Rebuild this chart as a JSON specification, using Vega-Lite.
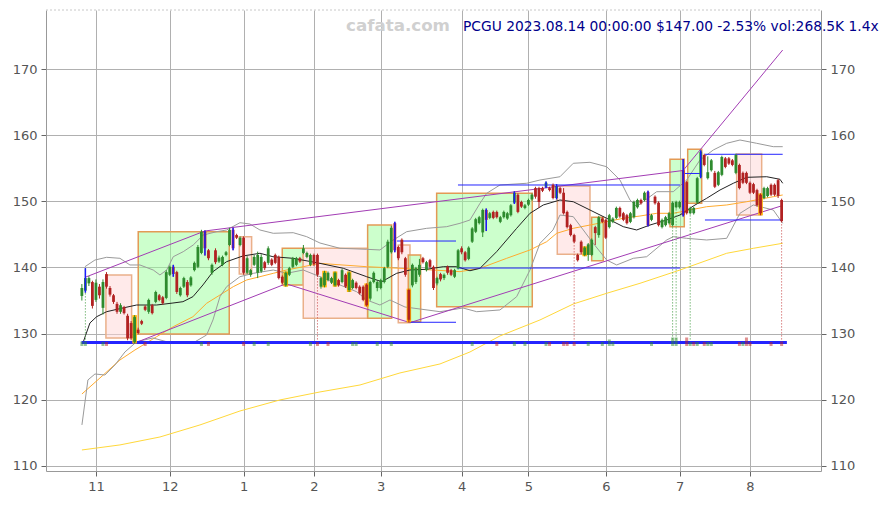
{
"$schema":"https://vega.github.io/schema/vega-lite/v6.json",
"width":775,"height":461,"autosize":"none",
"padding":{"left":46,"top":10,"right":67,"bottom":34},
"background":"white",
"config":{"view":{"stroke":null},"font":"DejaVu Sans","scale":{"continuousPadding":0},
 "axis":{"labelFont":"DejaVu Sans","labelFontSize":13,"labelColor":"#555555","tickColor":"#666666","domainColor":"#999999","gridColor":"#b0b0b0","gridWidth":1,"tickSize":5,"labelPadding":4,"title":null}},
"datasets":{
"candles":[
{"i":-4,"o":135.7,"h":137.5,"l":135.0,"c":136.9},{"i":-3,"o":136.5,"h":139.9,"l":136.2,"c":138.4,"m":"b"},{"i":-2,"o":137.6,"h":138.7,"l":137.2,"c":138.4},{"i":-1,"o":137.8,"h":138.0,"l":133.8,"c":134.2},
{"i":0,"o":135.1,"h":138.2,"l":134.8,"c":137.7},{"i":1,"o":137.1,"h":137.5,"l":135.3,"c":135.8},{"i":2,"o":133.9,"h":138.2,"l":132.9,"c":137.8},{"i":3,"o":139.0,"h":139.3,"l":136.8,"c":137.1},
{"i":4,"o":136.9,"h":137.2,"l":135.6,"c":135.9},{"i":5,"o":135.8,"h":136.0,"l":134.5,"c":134.8},{"i":6,"o":134.5,"h":134.8,"l":133.0,"c":133.3},{"i":7,"o":133.3,"h":134.6,"l":133.0,"c":134.3},
{"i":8,"o":134.0,"h":134.2,"l":132.9,"c":133.1},{"i":9,"o":132.7,"h":133.0,"l":129.0,"c":129.3},{"i":10,"o":131.6,"h":131.9,"l":129.0,"c":129.3},{"i":11,"o":128.7,"h":132.8,"l":128.5,"c":132.5,"m":"o"},
{"i":12,"o":130.6,"h":130.9,"l":129.9,"c":130.1},{"i":13,"o":131.9,"h":132.1,"l":131.3,"c":131.5},{"i":14,"o":134.1,"h":134.3,"l":133.4,"c":133.6},{"i":15,"o":133.3,"h":135.3,"l":133.0,"c":135.1},
{"i":16,"o":134.3,"h":134.5,"l":132.9,"c":133.1},{"i":17,"o":134.8,"h":136.5,"l":134.6,"c":136.3},{"i":18,"o":135.8,"h":136.0,"l":134.9,"c":135.1},{"i":19,"o":135.5,"h":135.7,"l":134.4,"c":134.6},
{"i":20,"o":135.4,"h":139.6,"l":135.2,"c":139.3},{"i":21,"o":138.9,"h":140.3,"l":138.7,"c":140.1},{"i":22,"o":140.1,"h":140.4,"l":138.6,"c":139.0,"m":"b"},{"i":23,"o":139.3,"h":139.5,"l":136.0,"c":136.3},
{"i":24,"o":135.8,"h":137.1,"l":135.6,"c":136.9},{"i":25,"o":137.1,"h":138.6,"l":136.9,"c":138.4},{"i":26,"o":137.8,"h":138.1,"l":135.5,"c":135.8},{"i":27,"o":137.3,"h":138.7,"l":137.1,"c":138.5},
{"i":28,"o":139.6,"h":140.9,"l":139.4,"c":140.7},{"i":29,"o":140.1,"h":143.4,"l":139.9,"c":143.1},{"i":30,"o":142.2,"h":145.7,"l":142.0,"c":145.4},{"i":31,"o":145.4,"h":145.6,"l":141.8,"c":142.9,"m":"b"},
{"i":32,"o":142.6,"h":142.8,"l":141.1,"c":141.4},{"i":33,"o":139.2,"h":140.6,"l":138.9,"c":140.4},{"i":34,"o":142.6,"h":142.9,"l":140.5,"c":140.8},{"i":35,"o":140.9,"h":141.8,"l":140.7,"c":141.5},
{"i":36,"o":140.4,"h":141.8,"l":140.2,"c":141.6},{"i":37,"o":141.9,"h":142.5,"l":141.7,"c":142.3},{"i":38,"o":143.4,"h":146.0,"l":143.2,"c":145.7},{"i":39,"o":145.7,"h":146.0,"l":142.6,"c":142.9,"m":"b"},
{"i":40,"o":144.9,"h":145.1,"l":144.3,"c":144.5},{"i":41,"o":143.4,"h":144.7,"l":143.2,"c":144.5},{"i":42,"o":144.5,"h":144.7,"l":138.9,"c":139.2},{"i":43,"o":139.2,"h":141.7,"l":139.0,"c":141.4},
{"i":44,"o":138.9,"h":139.8,"l":138.6,"c":139.6},{"i":45,"o":140.4,"h":141.9,"l":140.2,"c":141.6},{"i":46,"o":139.2,"h":142.4,"l":138.4,"c":141.9},{"i":47,"o":139.4,"h":142.0,"l":139.2,"c":141.6},
{"i":48,"o":140.8,"h":141.0,"l":139.6,"c":139.9},{"i":49,"o":140.7,"h":143.2,"l":140.4,"c":142.9},{"i":50,"o":141.2,"h":141.4,"l":140.2,"c":140.4},{"i":51,"o":141.9,"h":142.1,"l":140.5,"c":140.7},
{"i":52,"o":141.6,"h":141.8,"l":138.2,"c":138.4},{"i":53,"o":138.6,"h":138.8,"l":137.5,"c":137.7},{"i":54,"o":137.3,"h":139.4,"l":137.1,"c":139.2,"m":"o"},{"i":55,"o":138.9,"h":140.1,"l":138.7,"c":139.9},
{"i":56,"o":140.1,"h":141.6,"l":139.9,"c":141.4},{"i":57,"o":140.4,"h":141.6,"l":140.2,"c":141.4},{"i":58,"o":141.4,"h":141.6,"l":140.7,"c":140.9},{"i":59,"o":142.2,"h":143.4,"l":142.0,"c":142.9},
{"i":60,"o":141.6,"h":142.4,"l":141.4,"c":142.2},{"i":61,"o":140.4,"h":142.1,"l":140.2,"c":141.9},{"i":62,"o":141.9,"h":142.1,"l":140.2,"c":140.5},{"i":63,"o":141.9,"h":142.1,"l":138.6,"c":138.9},
{"i":64,"o":137.1,"h":138.6,"l":136.8,"c":138.4},{"i":65,"o":137.3,"h":139.5,"l":137.0,"c":139.2,"m":"o"},{"i":66,"o":138.1,"h":139.4,"l":137.9,"c":139.2},{"i":67,"o":137.7,"h":138.6,"l":137.5,"c":138.4},
{"i":68,"o":137.3,"h":139.4,"l":137.1,"c":139.2,"m":"o"},{"i":69,"o":138.1,"h":138.3,"l":137.1,"c":137.3},{"i":70,"o":137.8,"h":139.8,"l":137.6,"c":139.6},{"i":71,"o":138.9,"h":139.1,"l":136.9,"c":137.1},
{"i":72,"o":136.6,"h":139.4,"l":136.3,"c":139.2,"m":"o"},{"i":73,"o":136.9,"h":138.3,"l":136.7,"c":138.1},{"i":74,"o":137.7,"h":137.9,"l":136.7,"c":136.9},{"i":75,"o":137.1,"h":137.3,"l":135.9,"c":136.1},
{"i":76,"o":137.1,"h":137.3,"l":134.9,"c":135.1},{"i":77,"o":137.4,"h":137.6,"l":134.1,"c":134.3,"m":"o"},{"i":78,"o":135.3,"h":138.0,"l":135.0,"c":137.8},{"i":79,"o":137.8,"h":139.4,"l":137.6,"c":139.2},
{"i":80,"o":136.9,"h":138.0,"l":136.4,"c":137.8},{"i":81,"o":136.9,"h":138.3,"l":136.7,"c":138.1},{"i":82,"o":137.8,"h":140.1,"l":137.6,"c":139.9},{"i":83,"o":140.1,"h":144.2,"l":139.9,"c":143.9},
{"i":84,"o":142.3,"h":146.3,"l":142.1,"c":146.0},{"i":85,"o":146.7,"h":146.9,"l":142.3,"c":142.6,"m":"b"},{"i":86,"o":143.1,"h":143.3,"l":141.1,"c":141.4},{"i":87,"o":144.2,"h":144.4,"l":142.0,"c":142.3},
{"i":88,"o":141.4,"h":141.6,"l":138.6,"c":138.9},{"i":89,"o":136.6,"h":136.8,"l":131.7,"c":132.1,"m":"o"},{"i":90,"o":137.3,"h":140.6,"l":137.0,"c":140.4},{"i":91,"o":137.8,"h":140.1,"l":137.5,"c":139.9},
{"i":92,"o":138.9,"h":141.3,"l":138.6,"c":140.4},{"i":93,"o":141.4,"h":141.6,"l":140.6,"c":140.8},{"i":94,"o":139.6,"h":141.0,"l":139.4,"c":140.8},{"i":95,"o":141.1,"h":141.3,"l":139.9,"c":140.1},
{"i":96,"o":140.1,"h":140.3,"l":136.6,"c":136.9},{"i":97,"o":137.6,"h":138.6,"l":137.3,"c":138.4},{"i":98,"o":139.0,"h":139.2,"l":137.9,"c":138.2},{"i":99,"o":138.4,"h":139.1,"l":138.1,"c":138.9},
{"i":100,"o":140.1,"h":140.3,"l":138.9,"c":139.2},{"i":101,"o":139.6,"h":139.8,"l":138.7,"c":138.9},{"i":102,"o":138.6,"h":139.8,"l":138.4,"c":139.6},{"i":103,"o":139.9,"h":142.8,"l":139.7,"c":142.6},
{"i":104,"o":142.9,"h":143.2,"l":142.0,"c":142.3},{"i":105,"o":142.3,"h":142.5,"l":140.9,"c":141.1},{"i":106,"o":141.3,"h":143.2,"l":141.1,"c":143.0},{"i":107,"o":143.9,"h":146.1,"l":143.7,"c":145.9},
{"i":108,"o":145.4,"h":147.5,"l":145.2,"c":147.3},{"i":109,"o":146.7,"h":147.8,"l":146.5,"c":147.6},{"i":110,"o":145.3,"h":148.9,"l":144.6,"c":148.7},{"i":111,"o":148.7,"h":148.9,"l":145.5,"c":147.2,"m":"b"},
{"i":112,"o":147.5,"h":148.4,"l":147.3,"c":148.2},{"i":113,"o":148.4,"h":148.6,"l":147.3,"c":147.5},{"i":114,"o":148.4,"h":148.6,"l":147.4,"c":147.6},{"i":115,"o":146.9,"h":147.8,"l":146.7,"c":147.6},
{"i":116,"o":147.6,"h":148.6,"l":147.4,"c":148.4},{"i":117,"o":147.4,"h":148.4,"l":147.2,"c":148.2},{"i":118,"o":147.9,"h":149.6,"l":147.7,"c":149.4},{"i":119,"o":149.8,"h":151.5,"l":149.6,"c":151.3,"m":"b"},
{"i":120,"o":151.0,"h":151.2,"l":148.2,"c":148.4},{"i":121,"o":149.9,"h":150.1,"l":149.0,"c":149.2},{"i":122,"o":149.0,"h":149.6,"l":148.8,"c":149.4},{"i":123,"o":149.5,"h":150.4,"l":149.3,"c":150.2},
{"i":124,"o":150.3,"h":151.2,"l":150.1,"c":151.0},{"i":125,"o":152.0,"h":152.2,"l":150.4,"c":150.7},{"i":126,"o":152.0,"h":152.2,"l":149.0,"c":149.9},{"i":127,"o":152.0,"h":152.2,"l":151.4,"c":151.6},
{"i":128,"o":152.2,"h":153.0,"l":152.0,"c":152.8,"m":"b"},{"i":129,"o":152.0,"h":152.2,"l":151.5,"c":151.7},{"i":130,"o":152.5,"h":152.7,"l":150.3,"c":150.5},{"i":131,"o":150.5,"h":152.6,"l":150.3,"c":152.3,"m":"b"},
{"i":132,"o":152.0,"h":152.2,"l":151.1,"c":151.3},{"i":133,"o":151.3,"h":152.0,"l":148.0,"c":148.2},{"i":134,"o":148.4,"h":148.6,"l":145.9,"c":146.1},{"i":135,"o":146.4,"h":146.6,"l":144.7,"c":144.9},
{"i":136,"o":144.9,"h":145.1,"l":143.7,"c":143.9},{"i":137,"o":141.9,"h":142.1,"l":140.9,"c":141.1},{"i":138,"o":143.9,"h":144.1,"l":142.0,"c":142.3},{"i":139,"o":141.9,"h":143.2,"l":141.7,"c":143.0,"m":"o"},
{"i":140,"o":141.9,"h":143.7,"l":141.0,"c":143.5},{"i":141,"o":141.9,"h":144.4,"l":141.7,"c":144.2},{"i":142,"o":146.1,"h":146.3,"l":143.4,"c":145.2},{"i":143,"o":144.9,"h":147.8,"l":144.5,"c":147.6},
{"i":144,"o":147.4,"h":147.6,"l":146.7,"c":146.9},{"i":145,"o":147.2,"h":147.4,"l":144.3,"c":144.5},{"i":146,"o":146.1,"h":148.1,"l":145.9,"c":147.9},{"i":147,"o":146.9,"h":147.6,"l":146.7,"c":147.4},
{"i":148,"o":147.5,"h":149.2,"l":147.3,"c":149.0},{"i":149,"o":149.0,"h":149.2,"l":147.5,"c":147.7},{"i":150,"o":148.2,"h":148.4,"l":147.0,"c":147.2},{"i":151,"o":147.9,"h":148.1,"l":146.5,"c":146.7},
{"i":152,"o":146.9,"h":148.4,"l":146.7,"c":148.2},{"i":153,"o":147.6,"h":150.1,"l":147.4,"c":149.9},{"i":154,"o":149.1,"h":150.4,"l":148.9,"c":150.2},{"i":155,"o":150.2,"h":150.4,"l":149.5,"c":149.7},
{"i":156,"o":150.2,"h":151.5,"l":150.0,"c":151.3},{"i":157,"o":151.4,"h":151.6,"l":146.2,"c":146.4,"m":"b"},{"i":158,"o":147.2,"h":148.1,"l":147.0,"c":147.9},{"i":159,"o":150.7,"h":150.9,"l":149.5,"c":149.7},
{"i":160,"o":149.8,"h":150.0,"l":146.2,"c":146.4},{"i":161,"o":146.1,"h":147.4,"l":145.9,"c":147.2},{"i":162,"o":146.4,"h":147.8,"l":146.2,"c":147.6},{"i":163,"o":146.7,"h":148.4,"l":146.5,"c":148.2},
{"i":164,"o":146.4,"h":150.0,"l":146.2,"c":149.8},{"i":165,"o":149.1,"h":150.1,"l":148.9,"c":149.9},{"i":166,"o":149.1,"h":150.1,"l":148.9,"c":149.9},{"i":167,"o":154.7,"h":156.4,"l":147.7,"c":147.9,"m":"b"},
{"i":168,"o":152.9,"h":153.1,"l":148.0,"c":148.2},{"i":169,"o":148.2,"h":149.2,"l":148.0,"c":149.0},{"i":170,"o":148.2,"h":149.2,"l":148.0,"c":149.0},{"i":171,"o":149.8,"h":153.7,"l":149.6,"c":153.5},
{"i":172,"o":153.7,"h":157.7,"l":153.5,"c":157.5,"m":"b"},{"i":173,"o":157.0,"h":157.2,"l":155.3,"c":155.5},{"i":174,"o":153.5,"h":156.8,"l":153.3,"c":154.4},{"i":175,"o":154.7,"h":156.4,"l":154.5,"c":156.2},
{"i":176,"o":154.3,"h":154.6,"l":152.0,"c":152.2},{"i":177,"o":152.5,"h":154.6,"l":152.3,"c":154.4},{"i":178,"o":154.0,"h":156.9,"l":153.8,"c":156.7},{"i":179,"o":156.5,"h":156.7,"l":155.0,"c":155.2},
{"i":180,"o":156.5,"h":156.7,"l":155.5,"c":155.7},{"i":181,"o":156.2,"h":156.4,"l":155.3,"c":155.5},{"i":182,"o":154.3,"h":157.2,"l":154.1,"c":157.0},{"i":183,"o":155.5,"h":155.7,"l":151.8,"c":152.0},
{"i":184,"o":154.3,"h":154.5,"l":152.6,"c":152.8},{"i":185,"o":154.3,"h":154.5,"l":152.6,"c":152.8},{"i":186,"o":152.8,"h":153.0,"l":151.1,"c":151.3},{"i":187,"o":152.6,"h":152.8,"l":151.1,"c":151.3},
{"i":188,"o":151.7,"h":151.9,"l":149.2,"c":149.4},{"i":189,"o":151.0,"h":151.2,"l":147.9,"c":148.2,"m":"o"},{"i":190,"o":150.5,"h":152.2,"l":150.3,"c":152.0},{"i":191,"o":150.8,"h":152.2,"l":150.6,"c":152.0},
{"i":192,"o":152.5,"h":152.7,"l":150.8,"c":151.0},{"i":193,"o":152.5,"h":152.7,"l":150.8,"c":151.0},{"i":194,"o":153.2,"h":153.4,"l":150.5,"c":150.82},{"i":195,"o":150.2,"h":150.4,"l":146.8,"c":147.0}
],
"boxes":[
{"i0":2.84,"i1":10.15,"p0":138.87,"p1":129.35,"k":"r"},
{"i0":12.03,"i1":37.91,"p0":145.41,"p1":129.95,"k":"g"},
{"i0":40.76,"i1":44.28,"p0":144.65,"p1":139.02,"k":"r"},
{"i0":52.99,"i1":58.96,"p0":142.9,"p1":137.35,"k":"g"},
{"i0":58.96,"i1":77.27,"p0":142.9,"p1":132.32,"k":"r"},
{"i0":77.27,"i1":84.1,"p0":146.42,"p1":132.32,"k":"g"},
{"i0":85.98,"i1":89.31,"p0":143.4,"p1":131.66,"k":"r"},
{"i0":88.82,"i1":92.35,"p0":141.89,"p1":131.81,"k":"g"},
{"i0":96.9,"i1":124.09,"p0":151.21,"p1":134.08,"k":"g"},
{"i0":131.2,"i1":140.5,"p0":152.32,"p1":142.0,"k":"r"},
{"i0":140.98,"i1":144.28,"p0":147.59,"p1":141.03,"k":"g"},
{"i0":163.25,"i1":167.32,"p0":156.35,"p1":146.17,"k":"g"},
{"i0":168.29,"i1":172.27,"p0":157.86,"p1":149.7,"k":"g"},
{"i0":182.22,"i1":189.33,"p0":157.15,"p1":147.93,"k":"r"}
],
"lines":[
{"s":"ye","i":-3.98,"p":112.42},{"s":"ye","i":6.83,"p":113.18},{"s":"ye","i":18.2,"p":114.38},{"s":"ye","i":29.58,"p":116.2},{"s":"ye","i":40.96,"p":118.31},{"s":"ye","i":52.33,"p":119.98},{"s":"ye","i":63.71,"p":121.19},{"s":"ye","i":75.09,"p":122.24},{"s":"ye","i":86.46,"p":124.06},{"s":"ye","i":97.84,"p":125.42},{"s":"ye","i":106.37,"p":127.23},{"s":"ye","i":114.9,"p":129.65},{"s":"ye","i":126.28,"p":132.07},{"s":"ye","i":135.75,"p":134.48},{"s":"ye","i":145.25,"p":136.1},{"s":"ye","i":154.72,"p":137.61},{"s":"ye","i":166.1,"p":139.62},{"s":"ye","i":179.38,"p":142.15},{"s":"ye","i":186.95,"p":142.9},{"s":"ye","i":195.31,"p":143.66},
{"s":"or","i":-3.98,"p":120.88},{"s":"or","i":1.14,"p":123.3},{"s":"or","i":6.83,"p":126.02},{"s":"or","i":11.09,"p":127.53},{"s":"or","i":17.26,"p":129.54},{"s":"or","i":21.99,"p":131.05},{"s":"or","i":27.59,"p":132.56},{"s":"or","i":31.48,"p":134.59},{"s":"or","i":35.27,"p":135.84},{"s":"or","i":39.05,"p":137.1},{"s":"or","i":42.86,"p":138.11},{"s":"or","i":46.64,"p":138.61},{"s":"or","i":50.43,"p":139.12},{"s":"or","i":54.24,"p":139.62},{"s":"or","i":58.96,"p":140.12},{"s":"or","i":63.71,"p":140.63},{"s":"or","i":67.41,"p":140.48},{"s":"or","i":76.99,"p":140.12},{"s":"or","i":86.46,"p":139.88},{"s":"or","i":95.85,"p":139.62},{"s":"or","i":103.53,"p":139.37},{"s":"or","i":109.22,"p":139.88},{"s":"or","i":116.81,"p":141.39},{"s":"or","i":123.44,"p":142.65},{"s":"or","i":128.19,"p":143.9},{"s":"or","i":131.03,"p":145.17},{"s":"or","i":135.75,"p":145.92},{"s":"or","i":140.5,"p":146.42},{"s":"or","i":145.25,"p":146.92},{"s":"or","i":149.97,"p":147.44},{"s":"or","i":154.72,"p":147.78},{"s":"or","i":159.47,"p":148.19},{"s":"or","i":164.19,"p":148.19},{"s":"or","i":168.94,"p":148.69},{"s":"or","i":173.69,"p":149.19},{"s":"or","i":179.38,"p":149.45},{"s":"or","i":185.07,"p":149.94},{"s":"or","i":192.63,"p":150.7},{"s":"or","i":195.31,"p":150.96},
{"s":"up","i":-3.13,"p":140.12},{"s":"up","i":-0.28,"p":141.13},{"s":"up","i":3.04,"p":141.54},{"s":"up","i":6.83,"p":141.39},{"s":"up","i":9.67,"p":140.38},{"s":"up","i":12.51,"p":140.38},{"s":"up","i":16.3,"p":139.62},{"s":"up","i":18.2,"p":138.87},{"s":"up","i":20.11,"p":139.62},{"s":"up","i":21.99,"p":141.63},{"s":"up","i":24.83,"p":142.39},{"s":"up","i":27.67,"p":143.4},{"s":"up","i":30.52,"p":144.91},{"s":"up","i":34.33,"p":145.41},{"s":"up","i":37.17,"p":145.67},{"s":"up","i":40.96,"p":146.77},{"s":"up","i":43.8,"p":146.57},{"s":"up","i":46.64,"p":145.67},{"s":"up","i":50.43,"p":145.17},{"s":"up","i":56.11,"p":145.26},{"s":"up","i":59.93,"p":144.66},{"s":"up","i":63.71,"p":143.7},{"s":"up","i":69.4,"p":142.9},{"s":"up","i":76.99,"p":142.75},{"s":"up","i":80.77,"p":142.65},{"s":"up","i":84.56,"p":144.16},{"s":"up","i":88.37,"p":145.41},{"s":"up","i":94.06,"p":145.92},{"s":"up","i":99.74,"p":146.17},{"s":"up","i":103.53,"p":146.68},{"s":"up","i":106.37,"p":147.18},{"s":"up","i":109.22,"p":149.7},{"s":"up","i":111.12,"p":151.21},{"s":"up","i":114.9,"p":152.47},{"s":"up","i":122.5,"p":152.73},{"s":"up","i":126.28,"p":153.22},{"s":"up","i":131.97,"p":153.72},{"s":"up","i":135.75,"p":155.75},{"s":"up","i":140.5,"p":155.9},{"s":"up","i":145.25,"p":155.23},{"s":"up","i":149.03,"p":153.22},{"s":"up","i":151.88,"p":150.2},{"s":"up","i":153.78,"p":149.19},{"s":"up","i":155.58,"p":149.94},{"s":"up","i":159.47,"p":151.46},{"s":"up","i":164.19,"p":151.46},{"s":"up","i":168.0,"p":153.22},{"s":"up","i":171.79,"p":156.25},{"s":"up","i":175.57,"p":157.76},{"s":"up","i":179.38,"p":158.77},{"s":"up","i":183.16,"p":159.27},{"s":"up","i":187.91,"p":158.77},{"s":"up","i":192.63,"p":158.26},{"s":"up","i":195.31,"p":158.26},
{"s":"lo","i":-3.98,"p":116.2},{"s":"lo","i":-2.28,"p":123.0},{"s":"lo","i":-0.28,"p":123.9},{"s":"lo","i":2.56,"p":123.75},{"s":"lo","i":5.4,"p":125.26},{"s":"lo","i":8.25,"p":127.23},{"s":"lo","i":11.58,"p":128.78},{"s":"lo","i":16.21,"p":129.35},{"s":"lo","i":20.11,"p":128.78},{"s":"lo","i":27.59,"p":128.59},{"s":"lo","i":31.48,"p":129.8},{"s":"lo","i":33.28,"p":132.07},{"s":"lo","i":35.27,"p":135.59},{"s":"lo","i":37.17,"p":137.1},{"s":"lo","i":40.96,"p":138.61},{"s":"lo","i":44.74,"p":139.12},{"s":"lo","i":50.43,"p":139.62},{"s":"lo","i":54.24,"p":139.12},{"s":"lo","i":58.96,"p":139.62},{"s":"lo","i":63.71,"p":138.61},{"s":"lo","i":69.4,"p":137.36},{"s":"lo","i":74.15,"p":136.34},{"s":"lo","i":76.99,"p":135.09},{"s":"lo","i":80.77,"p":134.33},{"s":"lo","i":83.62,"p":135.09},{"s":"lo","i":87.88,"p":134.03},{"s":"lo","i":97.84,"p":133.32},{"s":"lo","i":104.38,"p":133.88},{"s":"lo","i":108.28,"p":133.32},{"s":"lo","i":114.9,"p":133.58},{"s":"lo","i":119.65,"p":135.59},{"s":"lo","i":123.44,"p":139.62},{"s":"lo","i":126.28,"p":143.65},{"s":"lo","i":129.98,"p":145.67},{"s":"lo","i":131.97,"p":147.93},{"s":"lo","i":135.75,"p":147.68},{"s":"lo","i":138.6,"p":145.67},{"s":"lo","i":141.44,"p":143.65},{"s":"lo","i":145.25,"p":141.13},{"s":"lo","i":148.09,"p":140.38},{"s":"lo","i":152.82,"p":141.39},{"s":"lo","i":156.63,"p":141.63},{"s":"lo","i":162.32,"p":144.16},{"s":"lo","i":164.19,"p":144.66},{"s":"lo","i":168.0,"p":144.41},{"s":"lo","i":173.69,"p":144.16},{"s":"lo","i":179.38,"p":144.41},{"s":"lo","i":183.16,"p":148.19},{"s":"lo","i":186.95,"p":149.45},{"s":"lo","i":192.63,"p":148.69},{"s":"lo","i":195.31,"p":146.68},
{"s":"ma","i":-3.7,"p":128.59},{"s":"ma","i":-1.71,"p":131.61},{"s":"ma","i":0.2,"p":132.56},{"s":"ma","i":3.04,"p":133.32},{"s":"ma","i":7.68,"p":133.88},{"s":"ma","i":11.58,"p":134.33},{"s":"ma","i":17.26,"p":134.33},{"s":"ma","i":21.9,"p":134.63},{"s":"ma","i":24.74,"p":134.83},{"s":"ma","i":27.59,"p":135.59},{"s":"ma","i":30.43,"p":137.36},{"s":"ma","i":33.28,"p":139.37},{"s":"ma","i":37.17,"p":140.88},{"s":"ma","i":41.81,"p":141.74},{"s":"ma","i":46.64,"p":142.15},{"s":"ma","i":50.34,"p":141.63},{"s":"ma","i":56.03,"p":141.39},{"s":"ma","i":62.77,"p":140.73},{"s":"ma","i":70.34,"p":139.88},{"s":"ma","i":76.99,"p":138.61},{"s":"ma","i":81.26,"p":137.85},{"s":"ma","i":85.52,"p":139.12},{"s":"ma","i":89.31,"p":139.62},{"s":"ma","i":94.06,"p":139.73},{"s":"ma","i":98.78,"p":140.12},{"s":"ma","i":102.59,"p":140.12},{"s":"ma","i":106.37,"p":139.51},{"s":"ma","i":109.22,"p":139.88},{"s":"ma","i":113.96,"p":142.39},{"s":"ma","i":119.65,"p":145.92},{"s":"ma","i":123.44,"p":148.19},{"s":"ma","i":127.22,"p":149.45},{"s":"ma","i":131.97,"p":150.2},{"s":"ma","i":135.75,"p":149.94},{"s":"ma","i":140.5,"p":148.69},{"s":"ma","i":145.25,"p":147.44},{"s":"ma","i":149.97,"p":146.17},{"s":"ma","i":153.78,"p":145.67},{"s":"ma","i":157.57,"p":146.42},{"s":"ma","i":162.32,"p":147.18},{"s":"ma","i":166.1,"p":147.93},{"s":"ma","i":169.88,"p":149.29},{"s":"ma","i":173.69,"p":150.46},{"s":"ma","i":177.47,"p":151.71},{"s":"ma","i":181.26,"p":152.73},{"s":"ma","i":185.07,"p":153.63},{"s":"ma","i":190.76,"p":153.72},{"s":"ma","i":194.54,"p":153.33},{"s":"ma","i":195.31,"p":152.73}
],
"trend":[
{"i0":-2.84,"p0":138.57,"i1":31.0,"p1":145.52},
{"i0":31.0,"p0":145.52,"i1":166.98,"p1":154.66},
{"i0":166.98,"p0":154.66,"i1":195.3,"p1":172.87},
{"i0":10.89,"p0":128.55,"i1":54.04,"p1":137.54},
{"i0":54.04,"p0":137.54,"i1":89.31,"p1":131.66},
{"i0":89.31,"p0":131.66,"i1":195.3,"p1":149.37}
],
"hl":[
{"i0":102.96,"i1":166.1,"p":152.47,"w":1},
{"i0":85.6,"i1":102.4,"p":144.0,"w":1},
{"i0":89.3,"i1":102.4,"p":131.72,"w":1},
{"i0":102.6,"i1":166.1,"p":139.92,"w":1},
{"i0":173.2,"i1":195.3,"p":157.11,"w":1},
{"i0":173.2,"i1":195.3,"p":147.18,"w":1},
{"i0":167.5,"i1":172.3,"p":154.21,"w":1},
{"i0":-4.1,"i1":196.5,"p":128.65,"w":3}
],
"frame":[{"i0":-14.2,"i1":206.2,"p":178.92}],
"vol":[
{"i":-4,"v":270,"k":"g"},{"i":-3,"v":270,"k":"g"},{"i":2,"v":240,"k":"g"},{"i":3,"v":240,"k":"r"},{"i":14,"v":240,"k":"r"},{"i":30,"v":240,"k":"g"},{"i":32,"v":240,"k":"r"},{"i":42,"v":240,"k":"r"},{"i":45,"v":240,"k":"g"},{"i":49,"v":240,"k":"g"},{"i":61,"v":240,"k":"g"},{"i":63,"v":240,"k":"r"},{"i":66,"v":240,"k":"r"},{"i":73,"v":240,"k":"g"},{"i":74,"v":240,"k":"g"},{"i":80,"v":240,"k":"g"},{"i":84,"v":240,"k":"g"},{"i":107,"v":240,"k":"g"},{"i":114,"v":240,"k":"r"},{"i":119,"v":240,"k":"g"},{"i":122,"v":240,"k":"g"},{"i":128,"v":240,"k":"g"},{"i":129,"v":240,"k":"r"},{"i":133,"v":240,"k":"r"},{"i":134,"v":240,"k":"r"},{"i":136,"v":240,"k":"r"},{"i":140,"v":240,"k":"g"},{"i":144,"v":240,"k":"g"},{"i":146,"v":390,"k":"g"},{"i":147,"v":240,"k":"g"},{"i":158,"v":240,"k":"g"},{"i":164,"v":510,"k":"g"},{"i":165,"v":510,"k":"g"},{"i":168,"v":510,"k":"r"},{"i":169,"v":240,"k":"g"},{"i":170,"v":240,"k":"r"},{"i":171,"v":240,"k":"g"},{"i":173,"v":240,"k":"r"},{"i":174,"v":240,"k":"g"},{"i":175,"v":240,"k":"g"},{"i":183,"v":240,"k":"r"},{"i":184,"v":240,"k":"g"},{"i":185,"v":510,"k":"r"},{"i":186,"v":240,"k":"r"},{"i":192,"v":240,"k":"r"},{"i":195,"v":270,"k":"r"}
],
"dots":[
{"i":-3,"p":136.6,"b":128.65,"k":"g"},{"i":63,"p":138.9,"b":128.65,"k":"r"},{"i":136,"p":143.9,"b":128.65,"k":"r"},{"i":164,"p":146.2,"b":128.65,"k":"g"},{"i":165,"p":148.9,"b":128.65,"k":"g"},{"i":169,"p":148.0,"b":128.65,"k":"g"},{"i":195,"p":146.8,"b":128.65,"k":"r"}
],
"texts":[
{"t":"cafata.com","x":85.9,"y":175.8,"k":"w"},
{"t":"PCGU 2023.08.14 00:00:00 $147.00 -2.53% vol:268.5K 1.4x","x":104.4,"y":175.8,"k":"t"}
]
},
"layer":[
 {"data":{"name":"boxes"},
  "mark":{"type":"rect","strokeWidth":1.5,"fillOpacity":0.5},
  "encoding":{
   "x":{"field":"i0","type":"quantitative","title":null,"scale":{"domain":[-14.2,206.2],"nice":false,"zero":false,"padding":0},
        "axis":{"values":[0,21,42,62,81,104,123,145,166,186],"labelExpr":"['11','12','1','2','3','4','5','6','7','8'][indexof([0,21,42,62,81,104,123,145,166,186], datum.value)]","grid":true,"domain":true}},
   "x2":{"field":"i1"},
   "y":{"field":"p0","type":"quantitative","title":null,"scale":{"domain":[109.24,178.92],"nice":false,"zero":false},
        "axis":{"orient":"left","values":[110,120,130,140,150,160,170],"grid":true}},
   "y2":{"field":"p1"},
   "fill":{"field":"k","type":"nominal","scale":{"domain":["g","r"],"range":["#99ff99","#ffd6d6"]},"legend":null},
   "stroke":{"field":"k","type":"nominal","scale":{"domain":["g","r"],"range":["#e39a55","#eab08a"]},"legend":null}
  }},
 {"data":{"name":"lines"},
  "mark":{"type":"line","strokeWidth":1},
  "encoding":{
   "x":{"field":"i","type":"quantitative","title":null},
   "y":{"field":"p","type":"quantitative","title":null,"scale":{"domain":[109.24,178.92],"nice":false,"zero":false},"axis":null},
   "detail":{"field":"s","type":"nominal"},
   "color":{"field":"s","type":"nominal","scale":{"domain":["ma","up","lo","or","ye"],"range":["#222222","#9a9a9a","#9a9a9a","#ffab2e","#ffd83a"]},"legend":null}
  }},
 {"data":{"name":"trend"},
  "mark":{"type":"rule","color":"#a23cb4","strokeWidth":1},
  "encoding":{"x":{"field":"i0","type":"quantitative","title":null},"x2":{"field":"i1"},
   "y":{"field":"p0","type":"quantitative","title":null,"scale":{"domain":[109.24,178.92],"nice":false,"zero":false},"axis":null},"y2":{"field":"p1"}}},
 {"data":{"name":"dots"},
  "mark":{"type":"rule","strokeWidth":1,"strokeDash":[1.5,1.5],"opacity":0.8},
  "encoding":{"x":{"field":"i","type":"quantitative","title":null},
   "y":{"field":"b","type":"quantitative","title":null,"scale":{"domain":[109.24,178.92],"nice":false,"zero":false},"axis":null},"y2":{"field":"p"},
   "color":{"field":"k","type":"nominal","scale":{"domain":["g","r"],"range":["#5aa85a","#d06060"]},"legend":null}}},
 {"data":{"name":"hl"},
  "mark":{"type":"rule","color":"#2424ff"},
  "encoding":{"x":{"field":"i0","type":"quantitative","title":null},"x2":{"field":"i1"},
   "y":{"field":"p","type":"quantitative","title":null,"scale":{"domain":[109.24,178.92],"nice":false,"zero":false},"axis":null},
   "strokeWidth":{"field":"w","type":"quantitative","scale":null}}},
 {"data":{"name":"vol"},
  "mark":{"type":"bar","size":3,"opacity":0.5},
  "encoding":{
   "x":{"field":"i","type":"quantitative","title":null},
   "y":{"field":"v","type":"quantitative","title":null,"scale":{"domain":[-7500,20160],"nice":false},"axis":null},
   "color":{"field":"k","type":"nominal","scale":{"domain":["g","r"],"range":["#2e8b2e","#c02020"]},"legend":null}
  }},
 {"data":{"name":"frame"},
  "mark":{"type":"rule","color":"#c8c8c8","strokeWidth":1,"strokeDash":[2,2]},
  "encoding":{"x":{"field":"i0","type":"quantitative","title":null},"x2":{"field":"i1"},
   "y":{"field":"p","type":"quantitative","title":null,"scale":{"domain":[109.24,178.92],"nice":false,"zero":false},"axis":null}}},
 {"data":{"name":"candles"},
  "transform":[{"filter":"datum.m == 'o'"}],
  "mark":{"type":"bar","size":4.5,"color":"#ffb300"},
  "encoding":{"x":{"field":"i","type":"quantitative","title":null},
   "y":{"field":"l","type":"quantitative","title":null,"scale":{"domain":[109.24,178.92],"nice":false,"zero":false},"axis":null},"y2":{"field":"h"}}},
 {"data":{"name":"candles"},
  "mark":{"type":"rule","strokeWidth":1},
  "encoding":{"x":{"field":"i","type":"quantitative","title":null},
   "y":{"field":"l","type":"quantitative","title":null,"scale":{"domain":[109.24,178.92],"nice":false,"zero":false},"axis":null},"y2":{"field":"h"},
   "color":{"condition":{"test":"datum.c >= datum.o","value":"#2e8b2e"},"value":"#b22222"}}},
 {"data":{"name":"candles"},
  "mark":{"type":"bar","size":2.8},
  "encoding":{"x":{"field":"i","type":"quantitative","title":null},
   "y":{"field":"o","type":"quantitative","title":null,"scale":{"domain":[109.24,178.92],"nice":false,"zero":false},"axis":null},"y2":{"field":"c"},
   "color":{"condition":{"test":"datum.c >= datum.o","value":"#2e8b2e"},"value":"#b22222"}}},
 {"data":{"name":"candles"},
  "transform":[{"filter":"datum.m == 'b'"}],
  "mark":{"type":"rule","color":"#1a1aff","strokeWidth":1.5},
  "encoding":{"x":{"field":"i","type":"quantitative","title":null},
   "y":{"field":"l","type":"quantitative","title":null,"scale":{"domain":[109.24,178.92],"nice":false,"zero":false},"axis":null},"y2":{"field":"h"}}},
 {"data":{"name":"texts"},
  "transform":[{"filter":"datum.k == 'w'"}],
  "mark":{"type":"text","font":"DejaVu Sans","fontWeight":"bold","fontSize":16.7,"color":"#d0d0d0","align":"center","baseline":"alphabetic"},
  "encoding":{"x":{"field":"x","type":"quantitative","title":null},
   "y":{"field":"y","type":"quantitative","title":null,"scale":{"domain":[109.24,178.92],"nice":false,"zero":false},"axis":null},"text":{"field":"t","type":"nominal"}}},
 {"data":{"name":"texts"},
  "transform":[{"filter":"datum.k == 't'"}],
  "mark":{"type":"text","font":"DejaVu Sans","fontSize":13.8,"color":"#00008b","align":"left","baseline":"alphabetic"},
  "encoding":{"x":{"field":"x","type":"quantitative","title":null},
   "y":{"field":"y","type":"quantitative","title":null,"scale":{"domain":[109.24,178.92],"nice":false,"zero":false},"axis":null},"text":{"field":"t","type":"nominal"}}},
 {"data":{"name":"candles"},
  "mark":{"type":"point","opacity":0},
  "encoding":{"x":{"field":"i","type":"quantitative","title":null},
   "y":{"field":"c","type":"quantitative","title":null,"scale":{"domain":[109.24,178.92],"nice":false,"zero":false},
        "axis":{"orient":"right","values":[110,120,130,140,150,160,170],"grid":false}}}}
],
"resolve":{"scale":{"y":"independent","color":"independent","fill":"independent","stroke":"independent"}}
}
